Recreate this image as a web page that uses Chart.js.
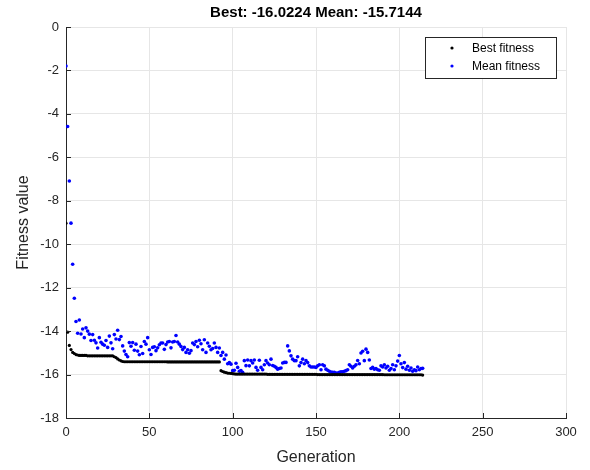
<!DOCTYPE html>
<html>
<head>
<meta charset="utf-8">
<script src="https://cdn.jsdelivr.net/npm/chart.js@4/dist/chart.umd.min.js"></script>
<style>
  html, body { margin: 0; padding: 0; background: #ffffff; }
  #wrap { width: 590px; height: 470px; }
</style>
</head>
<body>
<div id="wrap"><canvas id="c" width="590" height="470"></canvas></div>
<script>
// Genetic algorithm progress: best and mean fitness per generation
const titleText = 'Best: -16.0224 Mean: -15.7144';
const xAxisLabel = 'Generation';
const yAxisLabel = 'Fitness value';
const seriesNames = ['Best fitness', 'Mean fitness'];
const xTickValues = [0, 50, 100, 150, 200, 250, 300];
const yTickValues = [0, -2, -4, -6, -8, -10, -12, -14, -16, -18];

const bestFitness = [
  -9.03, -14.05, -14.66, -14.85, -14.98, -15.03, -15.08, -15.10,
  -15.12, -15.12, -15.12, -15.12, -15.12,
  -15.14, -15.14, -15.14, -15.14, -15.14, -15.14, -15.14, -15.14,
  -15.14, -15.14, -15.14, -15.14, -15.14, -15.14, -15.14, -15.14,
  -15.18, -15.22, -15.28, -15.33, -15.37, -15.40,
  -15.41, -15.41, -15.41, -15.41, -15.41, -15.41, -15.41, -15.41, -15.41, -15.41,
  -15.41, -15.41, -15.41, -15.41, -15.41, -15.41, -15.41, -15.41, -15.41, -15.41,
  -15.41, -15.41, -15.41, -15.41, -15.41, -15.41,
  -15.42, -15.42, -15.42, -15.42, -15.42, -15.42, -15.42, -15.42, -15.42, -15.42,
  -15.42, -15.42, -15.42, -15.42, -15.42, -15.42, -15.42, -15.42, -15.42, -15.42,
  -15.42, -15.42, -15.42, -15.42, -15.42, -15.42, -15.42, -15.42, -15.42, -15.42,
  -15.42, -15.42,
  -15.82, -15.86, -15.89, -15.91, -15.93, -15.94, -15.95, -15.96, -15.97,
  -15.98, -15.98, -15.98, -15.98, -15.98, -15.98, -15.98, -15.98, -15.98, -15.98,
  -15.98, -15.98, -15.98, -15.98, -15.98, -15.98, -15.98, -15.98, -15.98,
  -15.99, -15.99, -15.99, -15.99, -15.99, -15.99, -15.99, -15.99, -15.99, -15.99,
  -15.99, -15.99, -15.99, -15.99, -15.99, -15.99, -15.99, -15.99, -15.99, -15.99,
  -15.99, -15.99, -15.99, -15.99, -15.99, -15.99, -15.99, -15.99, -15.99, -15.99,
  -16.00, -16.00, -16.00, -16.00, -16.00, -16.00, -16.00, -16.00, -16.00, -16.00,
  -16.00, -16.00, -16.00, -16.00, -16.00, -16.00, -16.00, -16.00, -16.00, -16.00,
  -16.00, -16.00, -16.00, -16.00, -16.00, -16.00, -16.00, -16.00, -16.00, -16.00,
  -16.00, -16.00, -16.00, -16.00, -16.00, -16.00, -16.00, -16.00, -16.00, -16.00,
  -16.01, -16.01, -16.01, -16.01, -16.01, -16.01, -16.01, -16.01, -16.01, -16.01,
  -16.01, -16.01, -16.01, -16.01, -16.01, -16.01, -16.01, -16.01, -16.01, -16.01,
  -16.01, -16.01, -16.01,
  -16.0224
];

const meanFitness = [
  -1.80, -4.58, -7.09, -9.03, -10.92, -12.49, -13.56, -14.10, -13.49, -14.13,
  -13.90, -14.30, -13.85, -14.00, -14.14, -14.43, -14.16, -14.42, -14.54, -14.78,
  -14.30, -14.51, -14.60, -14.65, -14.43, -14.75, -14.23, -14.54, -14.81, -14.16,
  -14.36, -13.96, -14.39, -14.25, -14.68, -14.92, -15.08, -15.18, -14.53, -14.70,
  -14.53, -14.88, -14.60, -14.92, -15.09, -14.71, -15.03, -14.48, -14.60, -14.30,
  -14.86, -15.08, -14.75, -14.72, -14.90, -14.77, -14.63, -14.55, -14.55, -14.84,
  -14.62, -14.50, -14.48, -14.77, -14.50, -14.48, -14.20, -14.50, -14.60, -14.71,
  -14.85, -14.75, -14.98, -14.86, -15.02, -14.90, -14.55, -14.62, -14.48, -14.72,
  -14.42, -14.58, -14.86, -14.40, -14.98, -14.55, -14.70, -14.86, -14.80, -14.55,
  -14.75, -14.98, -14.78, -15.12, -14.98, -15.29, -15.10, -15.50, -15.45, -15.52,
  -15.82, -15.80, -15.48, -15.67, -15.85, -15.82, -15.90, -15.36, -15.59, -15.33,
  -15.60, -15.36, -15.47, -15.33, -15.67, -15.80, -15.34, -15.67, -15.78, -15.55,
  -15.36, -15.47, -15.55, -15.29, -15.58, -15.62, -15.67, -15.75, -15.72, -15.70,
  -15.47, -15.44, -15.44, -14.68, -14.91, -15.14, -15.29, -15.36, -15.36, -15.18,
  -15.60, -15.45, -15.29, -15.50, -15.36, -15.45, -15.60, -15.65, -15.65, -15.65,
  -15.67, -15.60, -15.55, -15.78, -15.55, -15.60, -15.75, -15.80, -15.85, -15.88,
  -15.90, -15.90, -15.93, -15.93, -15.90, -15.87, -15.87, -15.85, -15.82, -15.78,
  -15.55, -15.62, -15.70, -15.62, -15.55, -15.35, -15.50, -15.01, -14.93, -15.36,
  -14.83, -14.98, -15.33, -15.72, -15.67, -15.75, -15.72, -15.78, -15.80, -15.60,
  -15.65, -15.55, -15.70, -15.62, -15.80, -15.72, -15.55, -15.78, -15.60, -15.38,
  -15.12, -15.50, -15.68, -15.45, -15.75, -15.62, -15.80, -15.70, -15.85, -15.78,
  -15.82, -15.65, -15.78, -15.72, -15.7144
];

// Points keyed by generation number (0, 1, 2, ...)
const toPoints = arr => arr.map((v, i) => ({ x: i, y: v }));

const FONT = '"Liberation Sans", Arial, Helvetica, sans-serif';
const AXIS_COLOR = '#262626';

// Inward tick marks, axis titles, plot title and the boxed legend
const decorations = {
  id: 'decorations',
  afterDraw(chart) {
    const ctx = chart.ctx;
    const { left, right, top, bottom } = chart.chartArea;
    const xs = chart.scales.x, ys = chart.scales.y;
    ctx.save();
    ctx.strokeStyle = AXIS_COLOR;
    ctx.lineWidth = 1;
    ctx.beginPath();
    xTickValues.forEach(v => {
      const px = Math.round(xs.getPixelForValue(v)) + 0.5;
      ctx.moveTo(px, bottom);
      ctx.lineTo(px, bottom - 5);
    });
    yTickValues.forEach(v => {
      const py = Math.round(ys.getPixelForValue(v)) + 0.5;
      ctx.moveTo(left, py);
      ctx.lineTo(left + 5, py);
    });
    ctx.stroke();

    // plot title
    ctx.fillStyle = '#000000';
    ctx.font = 'bold 15px ' + FONT;
    ctx.textAlign = 'center';
    ctx.textBaseline = 'middle';
    ctx.fillText(titleText, (left + right) / 2, 13);

    // axis titles
    ctx.fillStyle = AXIS_COLOR;
    ctx.font = '16px ' + FONT;
    ctx.fillText(xAxisLabel, (left + right) / 2, 458);
    ctx.save();
    ctx.translate(24, (top + bottom) / 2);
    ctx.rotate(-Math.PI / 2);
    ctx.fillText(yAxisLabel, 0, 0);
    ctx.restore();

    // legend box
    const lx = 425.5, ly = 37.5, lw = 131, lh = 41;
    ctx.fillStyle = '#ffffff';
    ctx.fillRect(lx, ly, lw, lh);
    ctx.strokeStyle = AXIS_COLOR;
    ctx.strokeRect(lx, ly, lw, lh);
    ctx.font = '12px ' + FONT;
    ctx.textAlign = 'left';
    chart.data.datasets.forEach((ds, i) => {
      const cy = ly + 10.5 + i * 18;
      ctx.fillStyle = ds.backgroundColor;
      ctx.beginPath();
      ctx.arc(452, cy, 1.6, 0, Math.PI * 2);
      ctx.fill();
      ctx.fillStyle = '#000000';
      ctx.fillText(ds.label, 472, cy + 0.5);
    });
    ctx.restore();
  }
};

new Chart(document.getElementById('c'), {
  type: 'scatter',
  data: {
    datasets: [
      {
        label: seriesNames[0],
        data: toPoints(bestFitness),
        backgroundColor: '#000000',
        borderColor: '#000000',
        pointRadius: 1.6,
        borderWidth: 0,
        showLine: false
      },
      {
        label: seriesNames[1],
        data: toPoints(meanFitness),
        backgroundColor: '#0000ff',
        borderColor: '#0000ff',
        pointRadius: 1.8,
        borderWidth: 0,
        showLine: false
      }
    ]
  },
  options: {
    responsive: false,
    animation: false,
    devicePixelRatio: 1,
    layout: { padding: { top: 27, right: 24, left: 0, bottom: 0 } },
    plugins: {
      legend: { display: false },
      title: { display: false },
      tooltip: { enabled: false }
    },
    scales: {
      x: {
        type: 'linear',
        min: 0,
        max: 300,
        afterBuildTicks: s => { s.ticks = xTickValues.map(v => ({ value: v })); },
        afterFit: s => { s.height = 52; },
        grid: { color: '#e6e6e6', drawTicks: false },
        border: { display: true, color: AXIS_COLOR, width: 1 },
        ticks: {
          padding: 7,
          color: AXIS_COLOR,
          font: { family: FONT, size: 13 },
          callback: v => String(v)
        }
      },
      y: {
        type: 'linear',
        min: -18,
        max: 0,
        afterBuildTicks: s => { s.ticks = yTickValues.slice().reverse().map(v => ({ value: v })); },
        afterFit: s => { s.width = 66; },
        grid: { color: '#e6e6e6', drawTicks: false },
        border: { display: true, color: AXIS_COLOR, width: 1 },
        ticks: {
          padding: 7,
          color: AXIS_COLOR,
          font: { family: FONT, size: 13 },
          callback: v => String(v)
        }
      }
    }
  },
  plugins: [decorations]
});
</script>
</body>
</html>
